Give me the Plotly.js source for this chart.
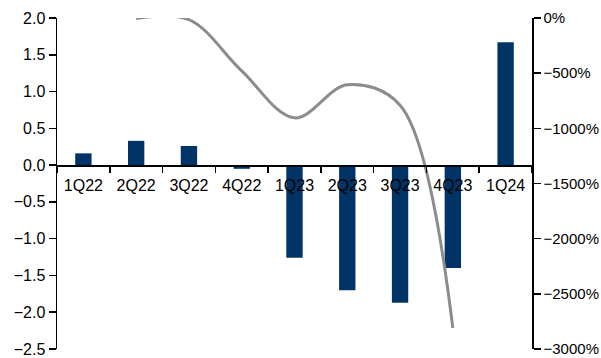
<!DOCTYPE html>
<html>
<head>
<meta charset="utf-8">
<script src="https://cdn.plot.ly/plotly-3.0.1.min.js"></script>
<style>html,body{margin:0;padding:0;background:#fff;}#chart{width:601px;height:358px;}</style>
</head>
<body>
<div id="chart"></div>
<script>
var categories = ["1Q22","2Q22","3Q22","4Q22","1Q23","2Q23","3Q23","4Q23","1Q24"];
var barValues = [0.16, 0.33, 0.26, -0.05, -1.26, -1.70, -1.87, -1.40, 1.67];
var lineValues = [null, -5, -15, -480, -905, -605, -790, -2810, null];
var leftTicks = [2.0, 1.5, 1.0, 0.5, 0.0, -0.5, -1.0, -1.5, -2.0, -2.5];
var rightTicks = [0, -500, -1000, -1500, -2000, -2500, -3000];

var fam = "Liberation Sans, Arial, sans-serif";
var rightText = rightTicks.map(function (v) { return (v < 0 ? "\u2212" + Math.abs(v) : String(v)) + "%"; });

var traces = [
  {
    type: "bar", x: categories, y: barValues,
    marker: {color: "#003466"}, width: 0.31, hoverinfo: "skip"
  },
  {
    type: "scatter", mode: "lines", x: categories, y: lineValues, yaxis: "y2",
    line: {color: "#8c8c8c", width: 3, shape: "spline", smoothing: 1},
    connectgaps: false, hoverinfo: "skip"
  }
];

var layout = {
  width: 601, height: 358,
  margin: {l: 57, r: 69, t: 18, b: 9},
  paper_bgcolor: "#fff", plot_bgcolor: "#fff",
  showlegend: false,
  font: {family: fam, size: 15, color: "#000"},
  xaxis: {
    type: "category",
    anchor: "free", position: 2.5 / 4.5,
    showline: true, linecolor: "#000", linewidth: 1.5,
    ticks: "outside", tickson: "boundaries", ticklen: 6, tickcolor: "#000", tickwidth: 1.5,
    ticklabelstandoff: 5,
    showgrid: false, zeroline: false, tickfont: {family: fam, size: 16, color: "#000"}
  },
  yaxis: {
    range: [-2.5, 2.0], tickvals: leftTicks, tickformat: ".1f",
    showline: true, linecolor: "#000", linewidth: 1.5,
    ticks: "outside", ticklen: 7, tickcolor: "#000", tickwidth: 1.5,
    ticklabeloverflow: "allow",
    showgrid: false, zeroline: false, tickfont: {family: fam, size: 16, color: "#000"}
  },
  yaxis2: {
    overlaying: "y", side: "right", anchor: "x",
    range: [-3000, 0], tickvals: rightTicks, ticktext: rightText,
    showline: true, linecolor: "#000", linewidth: 1.5,
    ticks: "outside", ticklen: 7, tickcolor: "#000", tickwidth: 1.5,
    ticklabeloverflow: "allow",
    showgrid: false, zeroline: false, tickfont: {family: fam, size: 15, color: "#000"}
  }
};

Plotly.newPlot("chart", traces, layout, {staticPlot: true, displayModeBar: false});
</script>
</body>
</html>
